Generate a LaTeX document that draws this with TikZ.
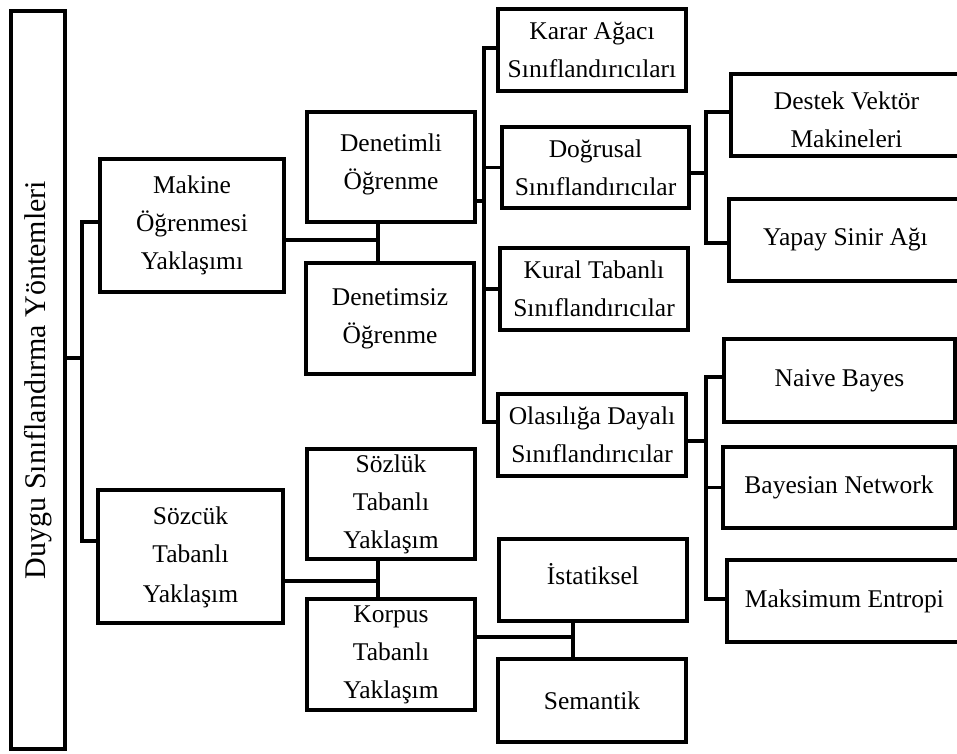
\documentclass[tikz,border=0pt]{standalone}
\usepackage{fontspec}
\setmainfont{Liberation Serif}
% move a line of text vertically while keeping its box size
\newcommand\lowerby[2]{\raisebox{-#1}[\height][\depth]{#2}}
\begin{document}
\begin{tikzpicture}[x=1pt,y=-1pt,
  line width=3.3pt, line join=miter,
  box/.style={draw, rectangle, inner sep=0pt, align=center,
    font=\fontsize{25.5}{38}\selectfont},
  wire/.style={draw, line width=3.3pt}]
\clip (0,0) rectangle (957,753);
\fill[white] (0,0) rectangle (957,753);

% root
\node[box, minimum width=54pt, minimum height=738pt] (root) at (38,380)
  {\fontsize{30}{34}\selectfont\rotatebox{90}{Duygu Sınıflandırma Yöntemleri}};

% level 1
\node[box, minimum width=184pt, minimum height=133pt] (mak) at (192,225.5)
  {Makine\\Öğrenmesi\\Yaklaşımı};
\node[box, minimum width=185pt, minimum height=133pt] (soz) at (190.5,556.5)
  {Sözcük\\Tabanlı\\\lowerby{2pt}{Yaklaşım}};

% level 2
\node[box, minimum width=168pt, minimum height=110pt] (den) at (391,167)
  {\lowerby{-3pt}{Denetimli}\\\lowerby{-3pt}{Öğrenme}};
\node[box, minimum width=168pt, minimum height=111pt] (dsz) at (390,318.5)
  {Denetimsiz\\Öğrenme};
\node[box, minimum width=168pt, minimum height=110pt] (szl) at (391,504)
  {Sözlük\\Tabanlı\\Yaklaşım};
\node[box, minimum width=168pt, minimum height=111pt] (kor) at (391,654.5)
  {Korpus\\Tabanlı\\Yaklaşım};

% level 3
\node[box, minimum width=188pt, minimum height=82pt] (kar) at (592,50)
  {Karar Ağacı\\Sınıflandırıcıları};
\node[box, minimum width=187pt, minimum height=81pt] (dog) at (595.5,167.5)
  {Doğrusal\\Sınıflandırıcılar};
\node[box, minimum width=188pt, minimum height=82pt] (kur) at (594,289)
  {Kural Tabanlı\\Sınıflandırıcılar};
\node[box, minimum width=188pt, minimum height=82pt] (ola) at (592,435)
  {Olasılığa Dayalı\\Sınıflandırıcılar};
\node[box, minimum width=188pt, minimum height=82pt] (ist) at (593,580)
  {\lowerby{-6pt}{İstatiksel}};
\node[box, minimum width=188pt, minimum height=83pt] (sem) at (592,700.5)
  {Semantik};

% level 4
\node[box, minimum width=231pt, minimum height=82pt] (des) at (846.5,115)
  {\lowerby{5pt}{Destek Vektör}\\\lowerby{5pt}{Makineleri}};
\node[box, minimum width=233pt, minimum height=82pt] (yap) at (845.5,240)
  {Yapay Sinir Ağı};
\node[box, minimum width=231pt, minimum height=83pt] (nai) at (839.5,380.5)
  {Naive Bayes};
\node[box, minimum width=232pt, minimum height=81pt] (bay) at (839,487.5)
  {Bayesian Network};
\node[box, minimum width=235pt, minimum height=82pt] (mke) at (844.5,601)
  {Maksimum Entropi};

% junction points of the connector buses
\coordinate (b0) at (82,358);
\coordinate (b1) at (378,240);
\coordinate (b2) at (484,201);
\coordinate (b3) at (706,173);
\coordinate (b4) at (706,441);
\coordinate (b5) at (378,581);
\coordinate (b6) at (573,637);

% root to the two approaches
\draw[wire] (root.east |- b0) -- (b0);
\draw[wire] ([yshift=3.5pt]mak.west) -| (b0) |- ([yshift=15.5pt]soz.west);

% machine learning branch
\draw[wire] ([yshift=-14.5pt]mak.east) -- (b1);
\draw[wire] (den.south -| b1) -- (dsz.north -| b1);

% supervised learning classifiers
\draw[wire] ([yshift=-34pt]den.east) -- (b2);
\draw[wire] ([yshift=2pt]kar.west) -| (b2) |- ([yshift=13pt]ola.west);
\draw[wire] (dog.west) -- (dog.west -| b2);
\draw[wire] (kur.west) -- (kur.west -| b2);

% linear classifiers
\draw[wire] ([yshift=-5.5pt]dog.east) -- (b3);
\draw[wire] ([yshift=3pt]des.west) -| (b3) |- ([yshift=-3pt]yap.west);

% probabilistic classifiers
\draw[wire] ([yshift=-6pt]ola.east) -- (b4);
\draw[wire] ([yshift=3.5pt]nai.west) -| (b4) |- ([yshift=2pt]mke.west);
\draw[wire] (bay.west) -- (bay.west -| b4);

% lexicon based branch
\draw[wire] ([yshift=-24.5pt]soz.east) -- (b5);
\draw[wire] (szl.south -| b5) -- (kor.north -| b5);

% corpus based methods
\draw[wire] ([yshift=17.5pt]kor.east) -- (b6);
\draw[wire] (ist.south -| b6) -- (sem.north -| b6);
\end{tikzpicture}
\end{document}
